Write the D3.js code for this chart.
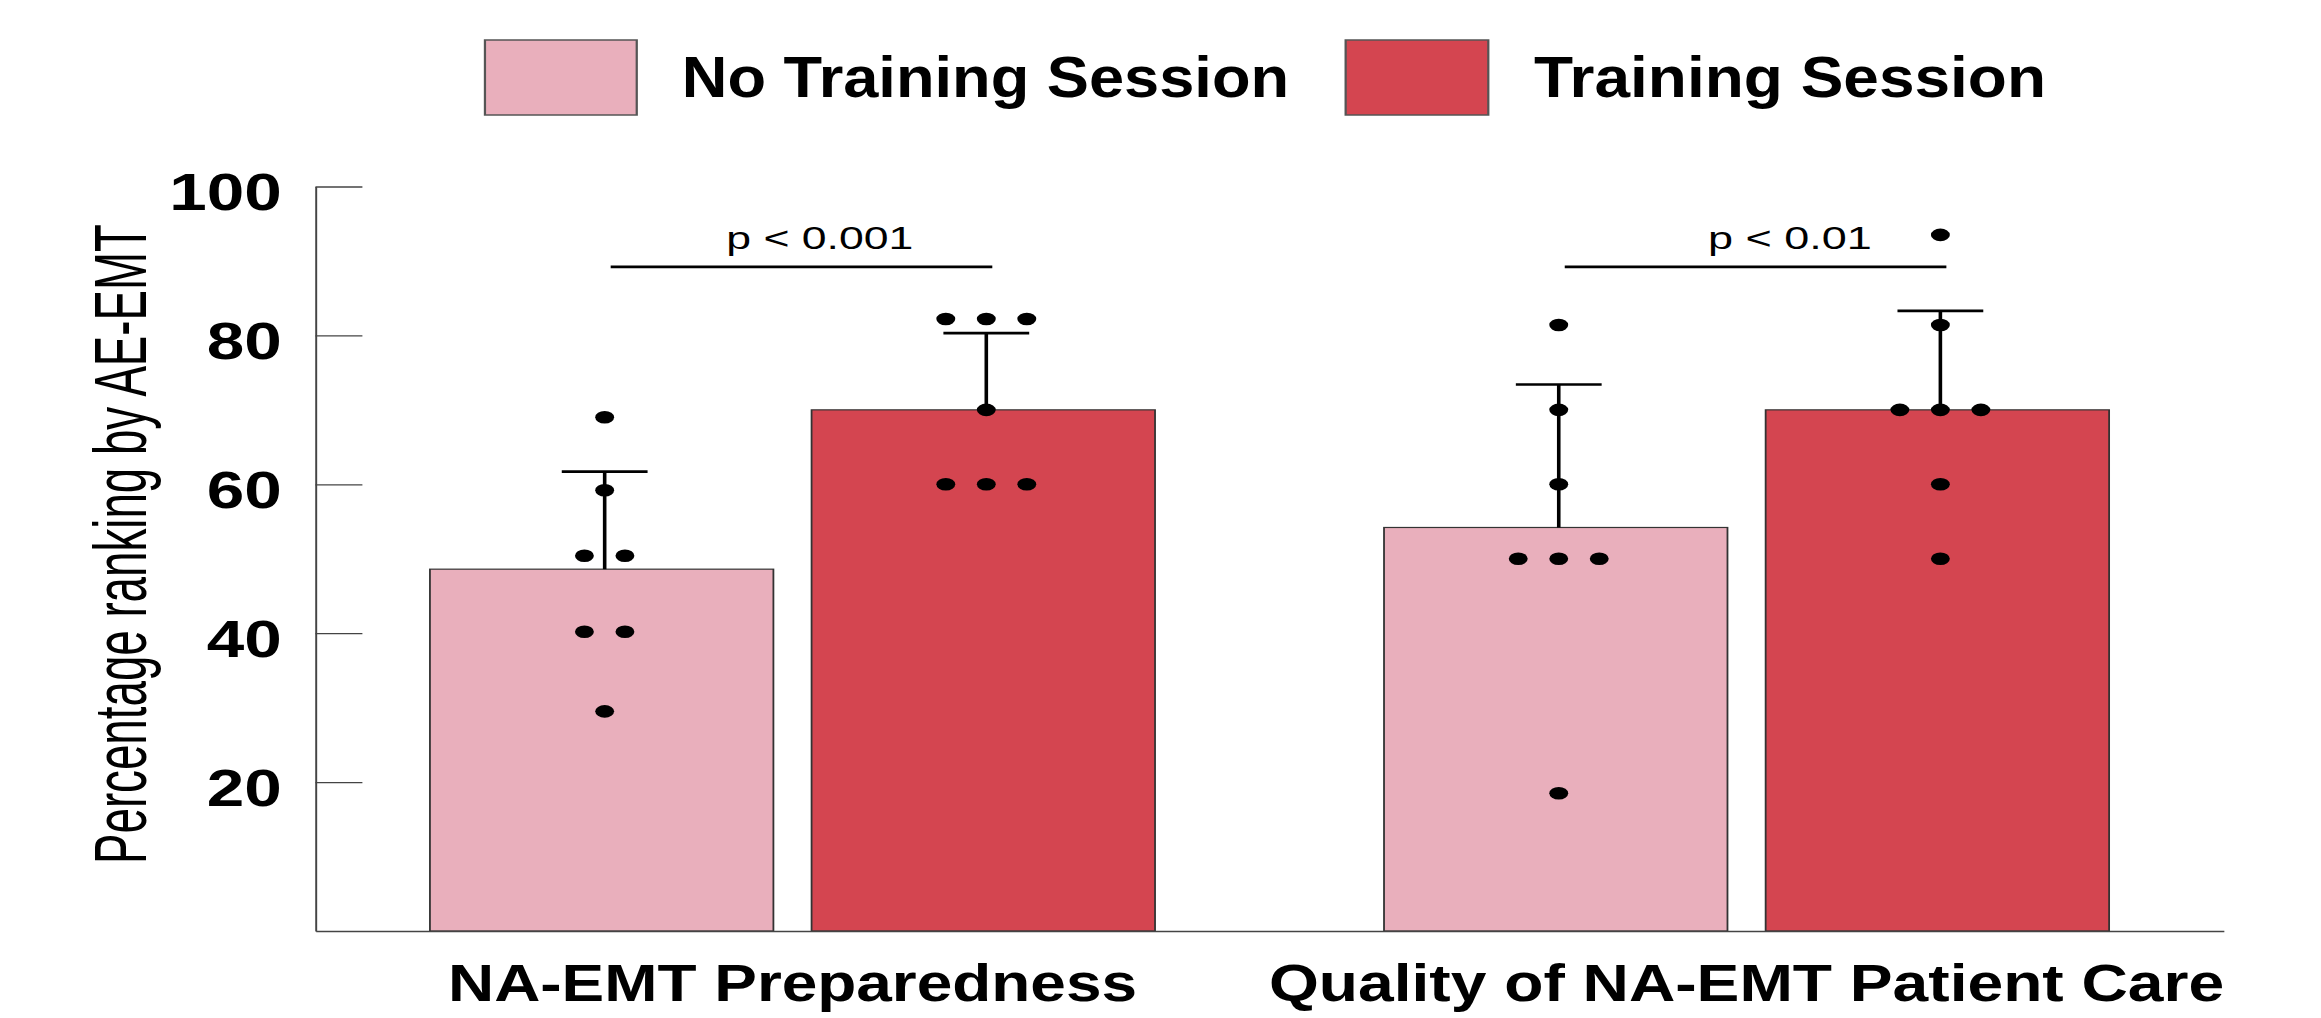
<!DOCTYPE html>
<html>
<head>
<meta charset="utf-8">
<script src="https://cdn.jsdelivr.net/npm/d3@7"></script>
<style>
  html, body { margin: 0; padding: 0; background: #fff; }
  svg { display: block; }
</style>
</head>
<body>
<script>
// data
const categories = ["NA-EMT Preparedness", "Quality of NA-EMT Patient Care"];
const series = ["No Training Session", "Training Session"];
const meanNoTraining = [48.6, 54.2];
const meanTraining = [70.0, 70.0];
const sdNoTraining = [13.1, 19.2];
const sdTraining = [10.3, 13.3];
const pointsNoTraining = [
  [69.0, 59.2, 50.4, 50.4, 40.2, 40.2, 29.5],
  [81.4, 70.0, 60.0, 50.0, 50.0, 50.0, 18.5]
];
const pointsTraining = [
  [82.2, 82.2, 82.2, 70.0, 60.0, 60.0, 60.0],
  [93.5, 81.4, 70.0, 70.0, 70.0, 60.0, 50.0]
];
const pLabels = ["p < 0.001", "p < 0.01"];
const bracketLevel = [89.2, 89.2];
const yTicks = [20, 40, 60, 80, 100];

const colors = ["#E9AFBC", "#D44550"];

// the picture is stretched sideways, so draw in a narrower box and let the viewBox stretch it
let W = 2321, H = 1018, K = 1.5;
let VW = W / K;
let font = "'Liberation Sans', Arial, sans-serif";

let svg = d3.select("body")
  .append("svg")
  .attr("width", W)
  .attr("height", H)
  .attr("viewBox", `0 0 ${VW} ${H}`)
  .attr("preserveAspectRatio", "none");

let plotLeft = 210.3, plotRight = 1482.4, plotTop = 186.5, plotBottom = 931;

let x0 = d3.scaleBand()
  .domain(categories)
  .range([plotLeft, plotRight])
  .paddingInner(0.24)
  .paddingOuter(0.12);

let x1 = d3.scaleBand()
  .domain(series)
  .range([0, x0.bandwidth()])
  .paddingInner(0.1);

let y = d3.scaleLinear()
  .domain([0, 100])
  .range([plotBottom, plotTop]);

// one record per bar
let bars = [];
categories.forEach((c, i) => {
  bars.push({cat: c, ser: series[0], mean: meanNoTraining[i], sd: sdNoTraining[i], pts: pointsNoTraining[i], col: colors[0]});
  bars.push({cat: c, ser: series[1], mean: meanTraining[i], sd: sdTraining[i], pts: pointsTraining[i], col: colors[1]});
});
// error bars and dots sit a hair right of the bar middle in the original
let markShift = 2;
let cx = d => x0(d.cat) + x1(d.ser) + x1.bandwidth() / 2 + markShift;

// bars
svg.selectAll("rect.bar")
  .data(bars)
  .enter()
  .append("rect")
  .attr("class", "bar")
  .attr("x", d => x0(d.cat) + x1(d.ser))
  .attr("y", d => y(d.mean))
  .attr("width", x1.bandwidth())
  .attr("height", d => y(0) - y(d.mean))
  .attr("fill", d => d.col)
  .attr("stroke", "#333")
  .attr("stroke-width", 1.2);

// error bars (upper half only)
let capHalf = 28.6;
svg.selectAll("line.err")
  .data(bars)
  .enter()
  .append("line")
  .attr("class", "err")
  .attr("x1", cx)
  .attr("x2", cx)
  .attr("y1", d => y(d.mean))
  .attr("y2", d => y(d.mean + d.sd))
  .attr("stroke", "#000")
  .attr("stroke-width", 2.4);

svg.selectAll("line.cap")
  .data(bars)
  .enter()
  .append("line")
  .attr("class", "cap")
  .attr("x1", d => cx(d) - capHalf)
  .attr("x2", d => cx(d) + capHalf)
  .attr("y1", d => y(d.mean + d.sd))
  .attr("y2", d => y(d.mean + d.sd))
  .attr("stroke", "#000")
  .attr("stroke-width", 2.6);

// individual points, equal values spread side by side
let spacing = 27;
let dots = [];
bars.forEach(b => {
  let groups = d3.group(b.pts, v => v);
  groups.forEach((vals, v) => {
    vals.forEach((_, i) => {
      dots.push({x: cx(b) + (i - (vals.length - 1) / 2) * spacing, v: v});
    });
  });
});

svg.selectAll("circle.dot")
  .data(dots)
  .enter()
  .append("circle")
  .attr("class", "dot")
  .attr("cx", d => d.x)
  .attr("cy", d => y(d.v))
  .attr("r", 6.3)
  .attr("fill", "#000");

// axes
let yAxis = svg.append("g")
  .attr("transform", `translate(${plotLeft},0)`)
  .call(d3.axisLeft(y).tickValues(yTicks).tickSize(-31.3).tickSizeOuter(0).tickPadding(22.5));
yAxis.select(".domain").attr("stroke", "#444").attr("stroke-width", 1.3);
yAxis.selectAll(".tick line").attr("stroke", "#444").attr("stroke-width", 1.3);
yAxis.selectAll(".tick text")
  .attr("font-family", font)
  .attr("font-size", 52)
  .attr("font-weight", "bold")
  .attr("fill", "#000")
  .attr("dy", "0.45em")
  .attr("textLength", d => String(d).length * 25)
  .attr("lengthAdjust", "spacingAndGlyphs");

let labelWidth = [459.3, 636.8];
let xAxis = svg.append("g")
  .attr("transform", `translate(0,${plotBottom})`)
  .call(d3.axisBottom(x0).tickSize(0).tickSizeOuter(0).tickPadding(34));
xAxis.select(".domain").attr("stroke", "#444").attr("stroke-width", 1.5);
xAxis.selectAll(".tick text")
  .attr("font-family", font)
  .attr("font-size", 51)
  .attr("font-weight", "bold")
  .attr("fill", "#000")
  .attr("textLength", (d, i) => labelWidth[i])
  .attr("lengthAdjust", "spacingAndGlyphs");

// y title
svg.append("text")
  .attr("transform", `translate(${146 / K},544) rotate(-90)`)
  .attr("text-anchor", "middle")
  .attr("font-family", font)
  .attr("font-size", 50)
  .attr("textLength", 640)
  .attr("lengthAdjust", "spacingAndGlyphs")
  .text("Percentage ranking by AE-EMT");

// significance brackets
let pWidth = [124.7, 109.3];
let pShift = [12.2, 22.9];
let lineShift = 6;
categories.forEach((c, i) => {
  let xa = x0(c) + x1(series[0]) + x1.bandwidth() / 2 + lineShift;
  let xb = x0(c) + x1(series[1]) + x1.bandwidth() / 2 + lineShift;
  svg.append("line")
    .attr("x1", xa)
    .attr("x2", xb)
    .attr("y1", y(bracketLevel[i]))
    .attr("y2", y(bracketLevel[i]))
    .attr("stroke", "#000")
    .attr("stroke-width", 2.7);
  svg.append("text")
    .attr("x", (xa + xb) / 2 + pShift[i])
    .attr("y", y(bracketLevel[i]) - 18)
    .attr("text-anchor", "middle")
    .attr("font-family", font)
    .attr("font-size", 32)
    .attr("textLength", pWidth[i])
    .attr("lengthAdjust", "spacingAndGlyphs")
    .text(pLabels[i]);
});

// legend
let legendBox = [{x: 323.3, w: 101.2}, {x: 897.1, w: 95.1}];
let legendText = [{x: 454.5, w: 404.9}, {x: 1022.7, w: 341.3}];
series.forEach((s, i) => {
  svg.append("rect")
    .attr("x", legendBox[i].x)
    .attr("y", 40)
    .attr("width", legendBox[i].w)
    .attr("height", 75)
    .attr("fill", colors[i])
    .attr("stroke", "#555")
    .attr("stroke-width", 1.5);
  svg.append("text")
    .attr("x", legendText[i].x)
    .attr("y", 96.7)
    .attr("font-family", font)
    .attr("font-size", 58)
    .attr("font-weight", "bold")
    .attr("textLength", legendText[i].w)
    .attr("lengthAdjust", "spacingAndGlyphs")
    .text(s);
});
</script>
</body>
</html>
